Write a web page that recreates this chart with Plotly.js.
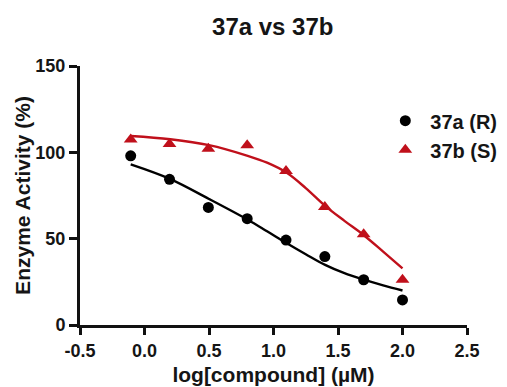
<!DOCTYPE html>
<html>
<head>
<meta charset="utf-8">
<script src="https://cdn.plot.ly/plotly-3.0.1.min.js"></script>
<style>html,body{margin:0;padding:0;background:#fff;}#chart{width:507px;height:387px;}</style>
</head>
<body>
<div id="chart"></div>
<script>
// log concentrations
const logConc = [-0.107, 0.194, 0.495, 0.796, 1.097, 1.398, 1.699, 2.0];
const act37a = [98, 84.4, 68.1, 61.6, 49.2, 39.6, 26.2, 14.5];
const act37b = [107.5, 104.8, 102.1, 104.1, 89.2, 68.3, 52.5, 26.2];
// fitted curves
const fitX = [-0.107, 0.2, 0.5, 0.8, 0.95, 1.1, 1.25, 1.4, 1.55, 1.7, 1.85, 2.0];
const fit37a = [93, 84.5, 73, 61, 54.3, 47.5, 41, 34.8, 30, 26.3, 23, 20];
const fit37b = [109.5, 107.6, 104.2, 98, 94, 88.3, 79.3, 69, 60.3, 52, 42.5, 32.8];
const xTickVals = [-0.5, 0, 0.5, 1, 1.5, 2, 2.5];
const xTickText = ['-0.5', '0.0', '0.5', '1.0', '1.5', '2.0', '2.5'];
const yTickVals = [0, 50, 100, 150];
const names = ['37a (R)', '37b (S)'];
const colors = ['#000000', '#c0101b'];

const traces = [
  {x: fitX, y: fit37a, mode: 'lines', line: {color: colors[0], width: 2.4, shape: 'spline'}, showlegend: false, hoverinfo: 'skip'},
  {x: fitX, y: fit37b, mode: 'lines', line: {color: colors[1], width: 2.4, shape: 'spline'}, showlegend: false, hoverinfo: 'skip'},
  {x: logConc, y: act37a, mode: 'markers', name: names[0], marker: {symbol: 'circle', size: 11, color: colors[0]}},
  {x: logConc, y: act37b, mode: 'markers', name: names[1], marker: {symbol: 'triangle-up', size: 12, color: colors[1]}}
];

const fontFam = '"Liberation Sans", Arial, sans-serif';
const txt = '#151515';
const pad = '\u00a0\u00a0\u00a0\u00a0\u00a0\u00a0';
const layout = {
  width: 507, height: 387,
  margin: {l: 80, r: 40, t: 66, b: 62, autoexpand: false},
  paper_bgcolor: '#fff', plot_bgcolor: '#fff',
  font: {family: fontFam, color: txt, size: 18, weight: 'bold'},
  title: {text: '37a vs 37b', x: 0.538, xanchor: 'center', y: 0.93, yanchor: 'middle', font: {size: 24, family: fontFam, weight: 'bold', color: txt}},
  xaxis: {
    range: [-0.5, 2.5], tickvals: xTickVals, ticktext: xTickText,
    showline: true, linewidth: 3, linecolor: '#111', ticks: 'outside', ticklen: 7, tickwidth: 3, tickcolor: '#111',
    showgrid: false, zeroline: false,
    tickfont: {size: 18, family: fontFam, weight: 'bold', color: txt},
    title: {text: 'log[compound] (µM)', standoff: 8, font: {size: 21, family: fontFam, weight: 'bold', color: txt}}
  },
  yaxis: {
    range: [0, 150], tickvals: yTickVals,
    showline: true, linewidth: 3, linecolor: '#111', ticks: 'outside', ticklen: 8, tickwidth: 3, tickcolor: '#111',
    showgrid: false, zeroline: false,
    tickfont: {size: 18, family: fontFam, weight: 'bold', color: txt},
    title: {text: pad + 'Enzyme Activity (%)', standoff: 0, font: {size: 21, family: fontFam, weight: 'bold', color: txt}}
  },
  legend: {x: 0.776, y: 0.864, xanchor: 'left', yanchor: 'top', bgcolor: 'rgba(0,0,0,0)', font: {size: 20, family: fontFam, weight: 'bold', color: txt}, tracegroupgap: 0, itemwidth: 40}
};

Plotly.newPlot('chart', traces, layout, {staticPlot: true, displayModeBar: false});
</script>
</body>
</html>
